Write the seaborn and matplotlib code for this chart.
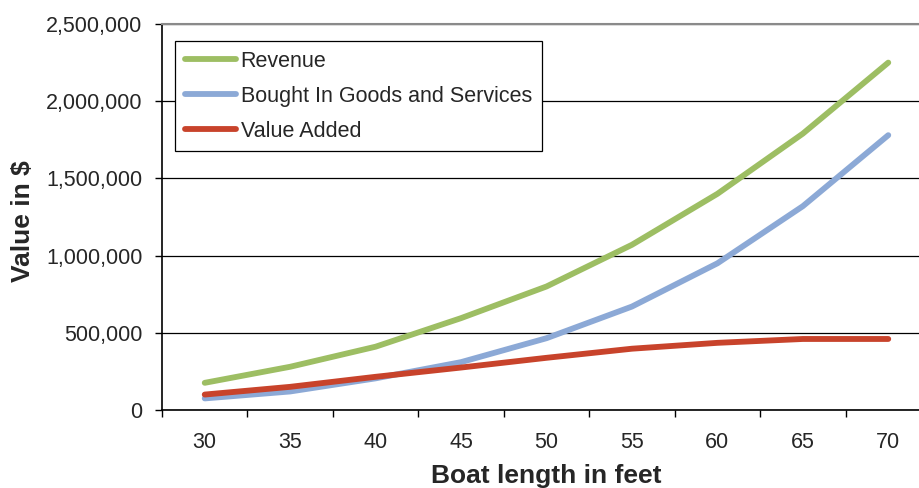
import numpy as np
import pandas as pd
import matplotlib
matplotlib.use("Agg")
import matplotlib.pyplot as plt
import seaborn as sns

# Boat length categories (feet)
lengths = [30, 35, 40, 45, 50, 55, 60, 65, 70]

# Values in dollars
revenue = [176000, 280000, 410000, 595000, 800000, 1070000, 1400000, 1790000, 2250000]
bought_in = [75000, 120000, 205000, 310000, 465000, 670000, 950000, 1320000, 1780000]
value_added = [100000, 150000, 215000, 275000, 338000, 397000, 435000, 460000, 460000]

series_names = ["Revenue", "Bought In Goods and Services", "Value Added"]
series_colors = ["#9DBE63", "#8CA9D6", "#C8432B"]
y_ticks = [0, 500000, 1000000, 1500000, 2000000, 2500000]

df = pd.DataFrame({
    "length": lengths * 3,
    "value": revenue + bought_in + value_added,
    "series": np.repeat(series_names, len(lengths)),
})

sns.set_style("ticks")
plt.rcParams["font.family"] = ["Liberation Sans", "DejaVu Sans"]

fig = plt.figure(figsize=(9.19, 4.88), dpi=100)
ax = fig.add_axes([162 / 919, 78 / 488, 769 / 919, 386 / 488])

sns.lineplot(
    data=df, x="length", y="value", hue="series",
    hue_order=series_names, palette=series_colors,
    linewidth=4.2, ax=ax, sort=False,
)
for line in ax.get_lines():
    line.set_solid_capstyle("round")
    line.set_solid_joinstyle("round")

ax.set_xlim(lengths[0] - 2.5, lengths[-1] + 2.5)
ax.set_ylim(0, 2500000)

# Category labels centred, tick marks on the category boundaries
ax.set_xticks(lengths)
ax.set_xticklabels([str(v) for v in lengths])
bounds = [v - 2.5 for v in lengths] + [lengths[-1] + 2.5]
ax.set_xticks(bounds, minor=True)
ax.tick_params(axis="x", which="major", length=0, pad=16, labelsize=15.5)
ax.tick_params(axis="x", which="minor", length=5, width=1, direction="out", color="black")

ax.set_yticks(y_ticks)
ax.set_yticklabels([f"{v:,}" for v in y_ticks])
ax.tick_params(axis="y", length=5, width=1, direction="out", pad=9, labelsize=15.5, color="black")

ax.grid(axis="y", color="black", linewidth=0.9)
ax.set_axisbelow(True)

for side in ["left", "bottom"]:
    ax.spines[side].set_color("black")
    ax.spines[side].set_linewidth(1.2)
ax.spines["right"].set_visible(False)
ax.spines["top"].set_color("#8a8a8a")
ax.spines["top"].set_linewidth(1.5)

ax.set_xlabel("Boat length in feet", fontsize=19, fontweight="bold", labelpad=8)
ax.set_ylabel("Value in $", fontsize=19, fontweight="bold")
ax.yaxis.set_label_coords(-0.165, 0.49)

handles, labels = ax.get_legend_handles_labels()
leg = ax.legend(
    handles, labels,
    loc="upper left", bbox_to_anchor=(175 / 919, 1 - 41 / 488),
    bbox_transform=fig.transFigure, borderaxespad=0,
    fontsize=15.5, frameon=True, fancybox=False, framealpha=1,
    edgecolor="black", handlelength=2.4, handletextpad=0.2,
    labelspacing=0.65, borderpad=0.45,
)
leg.get_frame().set_linewidth(0.9)
for h in leg.get_lines():
    h.set_linewidth(4.2)
    h.set_solid_capstyle("round")

fig.savefig("out.png", dpi=100)
